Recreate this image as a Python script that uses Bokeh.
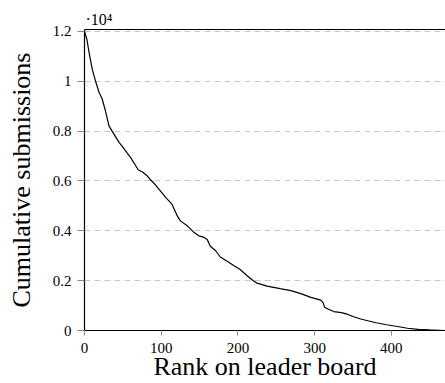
from bokeh.plotting import figure
from bokeh.models import FixedTicker, LinearAxis, Range1d
from bokeh.embed import file_html
from bokeh.resources import INLINE

rank = [0, 3, 6, 10, 14, 19, 23, 27, 32, 35, 40, 45, 49, 55, 60, 66, 70, 76, 82, 86,
        90, 97, 106, 114, 121, 125, 134, 143, 149, 155, 160, 164, 171, 177, 185, 195,
        203, 212, 220, 225, 238, 255, 269, 283, 295, 308, 311, 313, 318, 325, 335, 342,
        350, 360, 368, 380, 394, 408, 421, 435, 450, 462, 470]
submissions = [12000, 11700, 11150, 10500, 10050, 9550, 9300, 8850, 8200, 8050, 7800,
               7550, 7400, 7150, 6950, 6650, 6450, 6350, 6200, 6050, 5930, 5670, 5330,
               5070, 4600, 4400, 4200, 3930, 3800, 3750, 3650, 3380, 3200, 2950, 2800,
               2600, 2450, 2200, 2000, 1900, 1780, 1680, 1600, 1470, 1330, 1220, 1120,
               930, 850, 760, 720, 660, 560, 460, 400, 310, 230, 160, 90, 45, 25, 10, 0]

x_ticks = [0, 100, 200, 300, 400]
y_ticks = [0, 2000, 4000, 6000, 8000, 10000, 12000]
y_tick_labels = ["0", "0.2", "0.4", "0.6", "0.8", "1", "1.2"]

FONT = "Liberation Serif"

p = figure(width=445, height=383, output_backend="svg", toolbar_location=None,
           x_range=Range1d(0, 470.6), y_range=Range1d(0, 12080),
           min_border_left=84, min_border_right=0, min_border_top=29, min_border_bottom=53,
           title="·10⁴")
p.outline_line_color = None
p.background_fill_color = "white"
p.border_fill_color = "white"

p.title.text_font = FONT
p.title.text_font_size = "16px"
p.title.text_font_style = "normal"
p.title.text_color = "black"
p.title.align = "left"
p.title.offset = 1
p.title.standoff = 3

p.line(rank, submissions, line_color="black", line_width=1.2)

p.xgrid.visible = False
p.ygrid.ticker = FixedTicker(ticks=y_ticks)
p.ygrid.grid_line_color = "#c8c8c8"
p.ygrid.grid_line_dash = "6 4"
p.ygrid.grid_line_width = 1

for ax in (p.xaxis[0], p.yaxis[0]):
    ax.axis_line_color = "black"
    ax.axis_line_width = 1.2
    ax.major_tick_line_color = "#888888"
    ax.major_tick_out = 5
    ax.major_tick_in = 0
    ax.minor_tick_line_color = None
    ax.major_label_text_font = FONT
    ax.major_label_text_font_size = "15px"
    ax.major_label_text_color = "black"
    ax.axis_label_text_font = FONT
    ax.axis_label_text_font_size = "26px"
    ax.axis_label_text_font_style = "normal"
    ax.axis_label_text_color = "black"

p.yaxis[0].major_tick_out = 7
p.xaxis[0].ticker = FixedTicker(ticks=x_ticks)
p.yaxis[0].ticker = FixedTicker(ticks=y_ticks)
p.yaxis[0].major_label_overrides = {t: l for t, l in zip(y_ticks, y_tick_labels)}
p.xaxis[0].axis_label = "Rank on leader board"
p.yaxis[0].axis_label = "Cumulative submissions"
p.xaxis[0].major_label_standoff = 7
p.yaxis[0].major_label_standoff = 6
p.xaxis[0].axis_label_standoff = -4
p.yaxis[0].axis_label_standoff = 14

top = LinearAxis(ticker=FixedTicker(ticks=[]), axis_line_color="black", axis_line_width=1.2,
                 major_tick_line_color=None, minor_tick_line_color=None,
                 major_label_text_font_size="0px")
p.add_layout(top, "above")

open("out.html", "w").write(file_html(p, INLINE))
